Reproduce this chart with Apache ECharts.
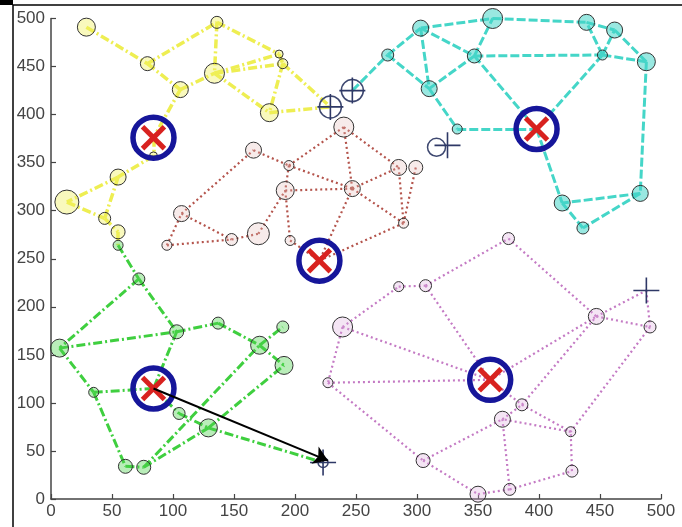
<!DOCTYPE html>
<html><head><meta charset="utf-8">
<script src="https://cdn.jsdelivr.net/npm/echarts@6/dist/echarts.min.js"></script>
<style>html,body{margin:0;padding:0;background:#fff}#c{width:682px;height:527px}</style>
</head><body><div id="c"></div>
<script>
// ---------- data (x, y, circle radius in px) ----------
const axisTicks = [0,50,100,150,200,250,300,350,400,450,500];

const yellowNodes = [[29,491,9],[79,453,7],[106,426,8],[136,496,6],[134,443,10],[187,463,4],[190,453,5],[179,402,9],[55,335,8],[13,309,12],[44,292,6],[55,278,7],[84,357,4]];
const yellowCenter = [84,376];
const yellowEdges = [[0,1],[1,3],[1,2],[2,4],[2,'c'],[3,4],[3,5],[4,6],[4,5],[4,7],[5,6],[6,7],[6,'x0'],[7,'x0'],['c',12],[12,8],[8,9],[8,10],[9,10],[10,11],[11,'g0']];

const cyanNodes = [[362,500,10],[439,496,8],[462,488,8],[303,490,8],[276,462,6],[347,461,7],[452,462,5],[488,455,9],[310,427,8],[333,385,5],[419,308,8],[483,318,8],[436,282,6]];
const cyanCenter = [398,385];
const cyanEdges = [['x1',4],[4,3],[4,8],[3,0],[3,8],[3,5],[8,5],[8,9],[5,0],[5,'c'],[9,'c'],[0,1],[1,2],[5,6],[6,1],[6,2],[2,7],[6,7],[6,'c'],[7,11],[11,10],[11,12],[10,12],['c',10]];

const brownNodes = [[166,363,8],[195,347,5],[192,321,9],[240,387,10],[247,323,8],[170,276,11],[148,270,6],[196,269,5],[107,297,8],[95,264,5],[285,345,8],[299,345,7],[289,287,5]];
const brownCenter = [220,248];
const brownEdges = [[9,6],[9,8],[8,0],[8,6],[6,5],[5,2],[2,7],[7,'c'],[0,1],[1,3],[1,2],[1,4],[2,4],[3,4],[4,'c'],[3,10],[4,10],[4,12],[10,12],[11,12],[12,'c']];

const purpleNodes = [[375,271,6],[285,221,5],[307,222,6],[239,179,10],[447,190,8],[491,179,6],[386,98,6],[370,83,8],[426,70,5],[305,40,7],[427,29,6],[350,5,8],[376,10,6],[227,121,5]];
const purpleCenter = [360,124];
const purpleEdges = [[3,1],[1,2],[2,0],[2,'c'],[3,'c'],[13,'c'],[3,13],[13,9],[9,7],[9,11],[11,12],[12,10],[10,8],[8,7],[7,12],[7,6],[6,4],[6,8],[0,4],['c',4],[4,5],[4,'x3'],['x3',5],[5,8],['c',6]];

const greenNodes = [[55,264,5],[72,229,6],[7,157,9],[103,174,7],[137,183,6],[190,179,6],[171,160,9],[191,139,9],[35,111,5],[105,89,6],[129,74,9],[61,34,7],[76,33,7]];
const greenCenter = [84,115];
const greenEdges = [[0,1],[1,2],[1,3],[2,3],[3,4],[4,6],[6,5],[6,7],[3,'c'],[2,8],[8,'c'],[8,11],[11,12],['c',9],[9,10],[10,'x4'],[12,6],[12,10],[10,7]];

// cross markers: x, y
const crossMarks = [[229,408],[247,425],[325,368],[488,217],[223,38]];
const crossCircles = [[229,408,11],[247,425,11],[316,366,9],[223,38,5]];
const arrowFrom = [84,115];
const arrowTo = [227,40];

// ---------- build ----------
const clusters = [
  {nodes:yellowNodes, c:yellowCenter, e:yellowEdges, color:'#eeee52', w:3.5, dash:[9,3,2,3], fill:'rgba(240,240,90,0.4)'},
  {nodes:cyanNodes, c:cyanCenter, e:cyanEdges, color:'#45d6c8', w:3, dash:[9,3], fill:'rgba(70,214,200,0.55)'},
  {nodes:brownNodes, c:brownCenter, e:brownEdges, color:'#b4544c', w:2.2, dash:[2,3], fill:'rgba(230,190,185,0.3)'},
  {nodes:purpleNodes, c:purpleCenter, e:purpleEdges, color:'#c47ac4', w:2.2, dash:[2,3], fill:'rgba(220,170,220,0.3)'},
  {nodes:greenNodes, c:greenCenter, e:greenEdges, color:'#3fcf3f', w:3, dash:[9,3,2,3], fill:'rgba(80,210,80,0.4)'}
];
function pt(cl, k){
  if (k === 'c') return cl.c;
  if (typeof k === 'string' && k[0] === 'x') return crossMarks[+k.slice(1)];
  if (typeof k === 'string' && k[0] === 'g') return greenNodes[+k.slice(1)];
  const n = cl.nodes[k]; return [n[0], n[1]];
}
const series = [];
clusters.forEach(cl => {
  series.push({type:'lines', coordinateSystem:'cartesian2d', z:2, silent:true,
    lineStyle:{color:cl.color, width:cl.w, type:cl.dash, opacity:1},
    data: cl.e.map(p => ({coords:[pt(cl,p[0]), pt(cl,p[1])]}))});
});
clusters.forEach(cl => {
  series.push({type:'scatter', z:3, silent:true, symbol:'circle',
    symbolSize: v => v[2]*2,
    itemStyle:{color:cl.fill, borderColor:'#333', borderWidth:1, opacity:1},
    data: cl.nodes});
});
const centers = clusters.map(cl => cl.c);
series.push({type:'scatter', z:5, silent:true, symbol:'circle', symbolSize:41,
  itemStyle:{color:'rgba(0,0,0,0)', borderColor:'#16169a', borderWidth:5.5, opacity:1}, data:centers});
[45,-45].forEach(r => series.push({type:'scatter', z:6, silent:true, symbol:'rect', symbolSize:[5,31], symbolRotate:r,
  itemStyle:{color:'#d8221f', opacity:1}, data:centers}));
series.push({type:'scatter', z:4, silent:true, symbol:'circle', symbolSize: v => v[2]*2,
  itemStyle:{color:'rgba(0,0,0,0)', borderColor:'#3e4870', borderWidth:1.5, opacity:1}, data:crossCircles});
series.push({type:'scatter', z:4, silent:true, symbol:'path://M0,5L10,5M5,0L5,10', symbolSize:26,
  itemStyle:{color:'none', borderColor:'#2e3866', borderWidth:1.6, opacity:1}, data:crossMarks});
series.push({type:'lines', coordinateSystem:'cartesian2d', z:7, silent:true, symbol:['none','arrow'], symbolSize:[10,14],
  lineStyle:{color:'#000', width:2, opacity:1}, data:[{coords:[arrowFrom, arrowTo]}]});

const axisCommon = {type:'value', min:0, max:500, interval:50,
  axisLine:{show:true, lineStyle:{color:'#444', width:1.5}},
  axisTick:{show:true, inside:true, length:5, lineStyle:{color:'#444', width:1.2}},
  splitLine:{show:false},
  axisLabel:{color:'#444', fontSize:17, fontFamily:'Liberation Sans, Arial, sans-serif',
    formatter: v => axisTicks.includes(v) ? String(v) : ''}};

const chart = echarts.init(document.getElementById('c'), null, {renderer:'canvas'});
chart.setOption({
  animation:false,
  backgroundColor:'#fff',
  grid:{left:51, right:21, top:18.5, bottom:28},
  xAxis: Object.assign({}, axisCommon, {axisLabel:Object.assign({}, axisCommon.axisLabel, {margin:4})}),
  yAxis: Object.assign({}, axisCommon, {axisLabel:Object.assign({}, axisCommon.axisLabel, {margin:6})}),
  graphic:[
    {type:'line', shape:{x1:13,y1:5,x2:682,y2:5}, style:{stroke:'#000', lineWidth:1.5}},
    {type:'line', shape:{x1:13,y1:5,x2:13,y2:527}, style:{stroke:'#000', lineWidth:1.5}},
    {type:'rect', shape:{x:0,y:0,width:13,height:5}, style:{fill:'#000'}}
  ],
  series
});
</script></body></html>
